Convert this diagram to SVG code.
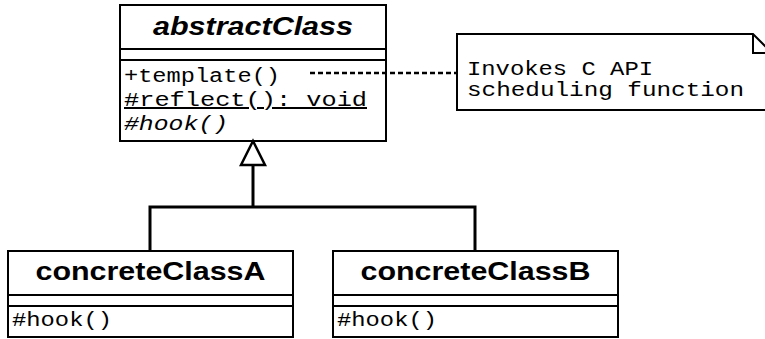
<svg xmlns="http://www.w3.org/2000/svg" width="765" height="339" viewBox="0 0 765 339">
  <style>
    .box { fill: #fff; stroke: #000; stroke-width: 2; }
    .div { stroke: #000; stroke-width: 2; }
    .title { font-family: "Liberation Sans", Arial, sans-serif; font-weight: bold; font-size: 25px; fill: #000; }
    .mono { font-family: "Liberation Mono", "Courier New", monospace; font-size: 20px; fill: #000; }
    .edge { fill: none; stroke: #000; stroke-width: 3; }
    .dash { fill: none; stroke: #000; stroke-width: 2.5; stroke-dasharray: 5 3; }
  </style>

  <g id="abstractClass">
    <rect class="box" x="120" y="5" width="266" height="136"/>
    <line class="div" x1="120" y1="49" x2="386" y2="49"/>
    <line class="div" x1="120" y1="60" x2="386" y2="60"/>
    <text class="title" x="253" y="35" text-anchor="middle" font-style="italic" textLength="200" lengthAdjust="spacingAndGlyphs">abstractClass</text>
    <text class="mono" x="124" y="82" textLength="156" lengthAdjust="spacingAndGlyphs">+template()</text>
    <text class="mono" x="124" y="106" text-decoration="underline" textLength="243" lengthAdjust="spacingAndGlyphs">#reflect(): void</text>
    <text class="mono" x="124" y="130" font-style="italic" textLength="104" lengthAdjust="spacingAndGlyphs">#hook()</text>
  </g>

  <g id="note">
    <path class="box" d="M457,34 H753 L772,53 V110 H457 Z"/>
    <path d="M753,34 V53 H772" fill="none" stroke="#000" stroke-width="2"/>
    <text class="mono" x="467" y="75" textLength="186" lengthAdjust="spacingAndGlyphs">Invokes C API</text>
    <text class="mono" x="467" y="96" textLength="277" lengthAdjust="spacingAndGlyphs">scheduling function</text>
  </g>

  <g id="concreteClassA">
    <rect class="box" x="8" y="251" width="285" height="86"/>
    <line class="div" x1="8" y1="295" x2="293" y2="295"/>
    <line class="div" x1="8" y1="306" x2="293" y2="306"/>
    <text class="title" x="150.5" y="280" text-anchor="middle" textLength="230" lengthAdjust="spacingAndGlyphs">concreteClassA</text>
    <text class="mono" x="12" y="326" textLength="100" lengthAdjust="spacingAndGlyphs">#hook()</text>
  </g>

  <g id="concreteClassB">
    <rect class="box" x="333" y="251" width="285" height="86"/>
    <line class="div" x1="333" y1="295" x2="618" y2="295"/>
    <line class="div" x1="333" y1="306" x2="618" y2="306"/>
    <text class="title" x="475.5" y="280" text-anchor="middle" textLength="230" lengthAdjust="spacingAndGlyphs">concreteClassB</text>
    <text class="mono" x="337" y="326" textLength="100" lengthAdjust="spacingAndGlyphs">#hook()</text>
  </g>

  <!-- generalization connectors and note link, drawn over the boxes -->
  <g id="connectors">
    <polyline class="edge" points="150,251 150,207 475,207 475,251"/>
    <line class="edge" x1="253" y1="207" x2="253" y2="165"/>
    <polygon points="253,141 241,165 265,165" fill="#fff" stroke="#000" stroke-width="2.5"/>
    <line class="dash" x1="310" y1="73" x2="457" y2="73"/>
  </g>
</svg>
